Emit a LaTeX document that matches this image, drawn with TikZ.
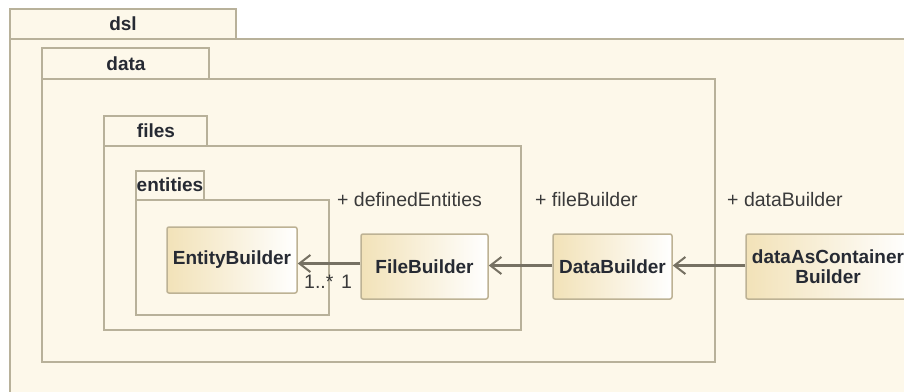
\documentclass[tikz,border=0pt]{standalone}
\usepackage{fontspec}
\setmainfont{Liberation Sans}
\usetikzlibrary{arrows.meta,calc}
\definecolor{pkgfill}{HTML}{FDF8EA}
\definecolor{pkgline}{HTML}{B8B19A}
\definecolor{clsline}{HTML}{BDB294}
\definecolor{clstan}{HTML}{F2E2B8}
\definecolor{txt}{HTML}{262A33}
\definecolor{lbl}{HTML}{3A3A3A}
\definecolor{wire}{HTML}{767163}
\tikzset{
  pkg/.style={draw=pkgline,fill=pkgfill,line width=1.6pt},
  pkgname/.style={font=\bfseries\fontsize{19}{20}\selectfont,text=txt,inner sep=0pt},
  cls/.style={draw=clsline,line width=1.5pt,rounded corners=2pt,
    left color=clstan,right color=white,
    font=\bfseries\fontsize{19}{20.5}\selectfont,text=txt,align=center,
    minimum height=65pt,inner sep=0pt},
  role/.style={font=\fontsize{19.5}{21}\selectfont,text=lbl,inner sep=0pt},
  assoc/.style={draw=wire,line width=2.4pt,
    -{Straight Barb[length=11pt,width=17pt,line width=2pt]}},
}
\begin{document}
\begin{tikzpicture}[x=1pt,y=-1pt]
\useasboundingbox (0,0) rectangle (904,391);
\fill[white] (0,0) rectangle (904,391);

% package dsl (runs past the right and bottom edges)
\draw[pkg] (10,39) rectangle (930,420);
\draw[pkg] (10,9) rectangle (236,39);
\node[pkgname] (dsl) at (123,24) {dsl};

% package data
\draw[pkg] (42,79) rectangle (715,362);
\draw[pkg] (42,48) rectangle (209,79);
\node[pkgname] (data) at (126,64) {data};

% package files
\draw[pkg] (104,146) rectangle (521,330);
\draw[pkg] (104,116) rectangle (207,146);
\node[pkgname] (files) at (156,131) {files};

% package entities
\draw[pkg] (136,200) rectangle (329,315);
\draw[pkg] (136,171) rectangle (204,200);
\node[pkgname] (entities) at (170,185) {entities};

% classes
\node[cls,minimum width=130pt,minimum height=66pt] (eb) at (232,260) {EntityBuilder};
\node[cls,minimum width=127pt] (fb) at (424.5,266.5) {FileBuilder};
\node[cls,minimum width=119pt] (db) at (612.5,266.5) {DataBuilder};
\node[cls,minimum width=164pt] (dac) at (828,266.5) {dataAsContainer\\Builder};

% association end points
\coordinate (fbw) at ($(fb.west)+(0,-3)$);
\coordinate (dbw) at ($(db.west)+(0,-1)$);
\coordinate (dacw) at ($(dac.west)+(0,-1)$);

% associations
\draw[assoc] (fbw) -- (fbw -| eb.east);
\draw[assoc] (dbw) -- (dbw -| fb.east);
\draw[assoc] (dacw) -- (dacw -| db.east);

% role names and multiplicities
\node[role,anchor=west] (r1) at (337,200) {+ definedEntities};
\node[role,anchor=west] (r2) at (535,200) {+ fileBuilder};
\node[role,anchor=west] (r3) at (727,200) {+ dataBuilder};
\node[role,anchor=base west] (m1) at (304,288) {1..*};
\node[role,anchor=base west] (m2) at (341,288) {1};
\end{tikzpicture}
\end{document}
